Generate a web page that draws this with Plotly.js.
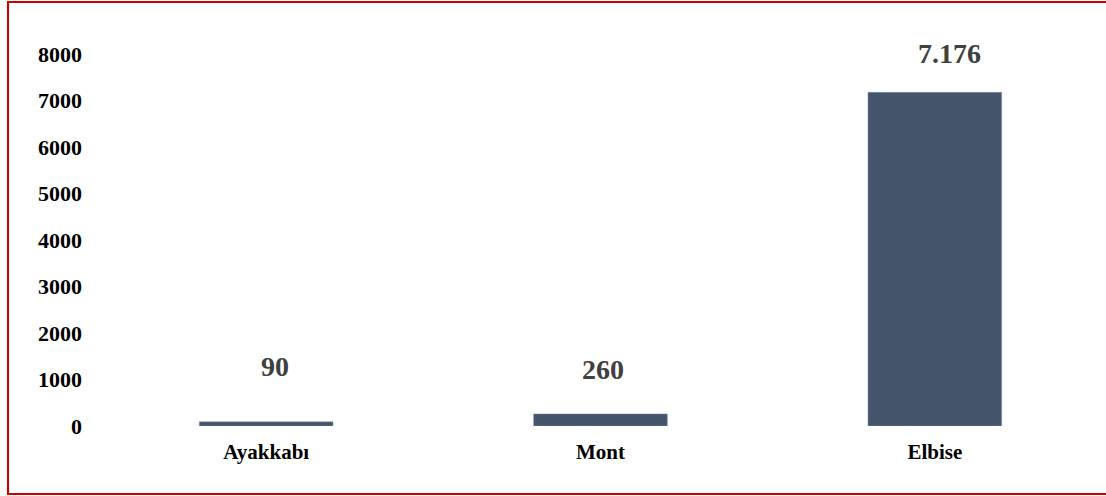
<!DOCTYPE html>
<html>
<head>
<meta charset="utf-8">
<script src="https://cdn.plot.ly/plotly-3.0.1.min.js"></script>
<style>
html,body{margin:0;padding:0;background:#fff;overflow:hidden;}
#wrap{position:relative;width:1106px;height:496px;overflow:hidden;}
#chart{position:absolute;left:0;top:0;width:1106px;height:496px;}
#frame{position:absolute;left:7px;top:1px;width:1200px;height:490px;border:2px solid #d00000;box-sizing:content-box;pointer-events:none;}
</style>
</head>
<body>
<div id="wrap"><div id="chart"></div><div id="frame"></div></div>
<script>
const categories = ["Ayakkabı", "Mont", "Elbise"];
const values = [90, 260, 7176];
const valueLabels = ["90", "260", "7.176"];
const yTicks = [0, 1000, 2000, 3000, 4000, 5000, 6000, 7000, 8000];

const labelShiftY = [55, 44, 39];
const labelShiftX = [9, 2, 15];

const trace = {
  type: "bar",
  x: categories,
  y: values,
  marker: {color: "#44546A", line: {color: "#8497B0", width: 0.5}},
  width: 0.4,
  hoverinfo: "none"
};

const annotations = categories.map((c, i) => ({
  x: c, y: values[i], xref: "x", yref: "y",
  text: "<b>" + valueLabels[i] + "</b>",
  showarrow: false, yshift: labelShiftY[i], xshift: labelShiftX[i],
  font: {family: "Liberation Serif, Times New Roman, serif", size: 28, color: "#404040"}
}));

const layout = {
  width: 1106, height: 496,
  margin: {l: 99, r: 4, t: 54, b: 70},
  paper_bgcolor: "#ffffff", plot_bgcolor: "#ffffff",
  showlegend: false,
  bargap: 0.6,
  xaxis: {
    tickmode: "array", tickvals: categories,
    ticktext: categories.map(t => "<b>" + t + "</b>"),
    showgrid: false, zeroline: false, showline: false, ticks: "",
    tickfont: {family: "Liberation Serif, Times New Roman, serif", size: 21, color: "#000"},
    ticklabelstandoff: 11
  },
  yaxis: {
    range: [0, 8000], tickmode: "array", tickvals: yTicks,
    ticktext: yTicks.map(v => "<b>" + v + "</b>"),
    showgrid: false, zeroline: false, showline: false, ticks: "",
    tickfont: {family: "Liberation Serif, Times New Roman, serif", size: 22, color: "#000"},
    ticklabelstandoff: 16
  },
  annotations: annotations
};

Plotly.newPlot("chart", [trace], layout, {staticPlot: true, displayModeBar: false});
</script>
</body>
</html>
